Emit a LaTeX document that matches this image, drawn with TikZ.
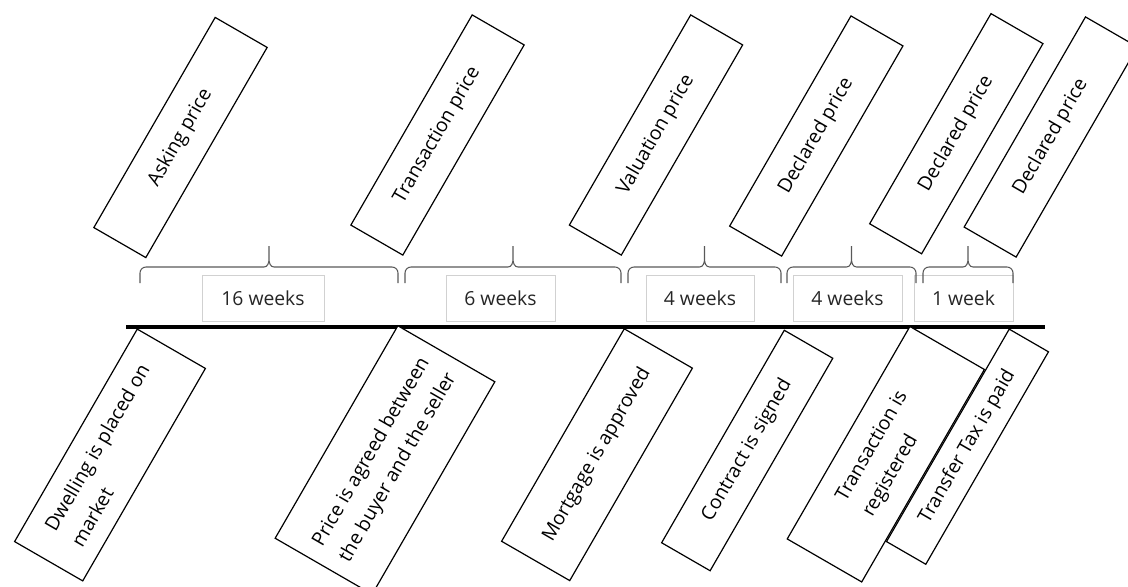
\documentclass[tikz,border=0pt]{standalone}
\usepackage{fontspec}
\setmainfont{Open Sans}
\begin{document}
\begin{tikzpicture}
  [x=0.75pt,y=-0.75pt,
   every node/.style={font=\fontsize{14.5pt}{23pt}\selectfont,align=center},
   pricebox/.style={draw,fill=white,line width=0.9pt,rotate=60,minimum width=182pt,minimum height=45pt,inner sep=1pt},
   eventbox/.style={draw,fill=white,line width=0.9pt,rotate=60,minimum width=184pt,inner sep=1pt,align=left},
   weekbox/.style={draw=black!18,fill=white,line width=0.5pt,text=black!85,minimum height=34.5pt,inner sep=1pt},
   bracket/.style={draw=black!65,line width=0.8pt}]
  \useasboundingbox (0,0) rectangle (1128,586);

  \node[weekbox,minimum width=91.5pt] (w16) at (263,298) {16 weeks};
  \node[weekbox,minimum width=82pt] (w6) at (500.5,298) {6 weeks};
  \node[weekbox,minimum width=81pt] (w4a) at (700,298) {4 weeks};
  \node[weekbox,minimum width=82pt] (w4b) at (847.5,298) {4 weeks};
  \node[weekbox,minimum width=74pt] (w1) at (963.5,298) {1 week};

  \foreach \a/\b in {140/398,405/621,628/781,787/916,923/1013}{
    \pgfmathsetmacro\m{(\a+\b)/2}
    \draw[bracket] (\a,283) -- (\a,273) to[out=90,in=180] (\a+6,267) -- (\m-5,267)
      to[out=0,in=-90] (\m,259) -- (\m,246) (\m,259) to[out=-90,in=180] (\m+5,267)
      -- (\b-6,267) to[out=0,in=90] (\b,273) -- (\b,283);
  }

  \coordinate (lstart) at (126,327);
  \coordinate (lend) at (1045,327);
  \draw[line width=3pt] (lstart) -- (lend);

  \node[pricebox] (ask) at (180.5,137.5) {Asking price};
  \node[pricebox] (trans) at (437.5,135) {Transaction price};
  \node[pricebox] (valu) at (656,135) {Valuation price};
  \node[pricebox] (decl1) at (816.3,136) {Declared price};
  \node[pricebox] (decl2) at (956.3,133.7) {Declared price};
  \node[pricebox] (decl3) at (1050.8,137) {Declared price};

  \node[eventbox,minimum height=59pt] (dwell) at (110,455) {Dwelling is placed on\\market};
  \node[eventbox,minimum height=84pt] (agree) at (385,460) {Price is agreed between\\the buyer and the seller};
  \node[eventbox,minimum height=59pt] (mortg) at (597,454.7) {Mortgage is approved};
  \node[eventbox,minimum height=42pt] (contr) at (747.2,450.5) {Contract is signed};
  \node[eventbox,minimum height=64.5pt] (regis) at (885.8,454.2) {Transaction is\\registered};
  \node[eventbox,minimum height=34pt] (taxpd) at (967.5,446.7) {Transfer Tax is paid};

\end{tikzpicture}
\end{document}
